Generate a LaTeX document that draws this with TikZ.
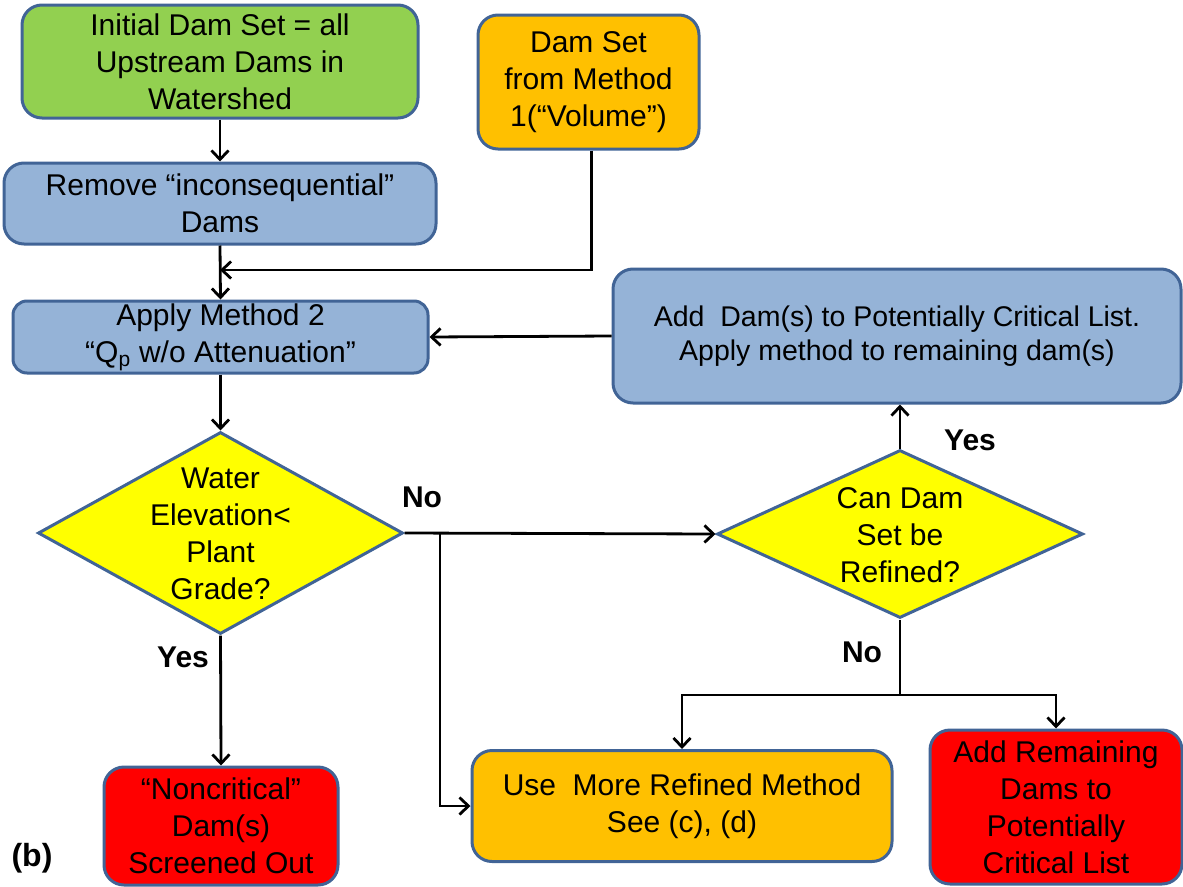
\documentclass[tikz,border=0pt]{standalone}
\usepackage{fontspec}
\setmainfont{Liberation Sans}
\usetikzlibrary{arrows.meta,shapes.geometric}
\definecolor{bord}{RGB}{65,100,150}
\definecolor{cgreen}{RGB}{146,208,80}
\definecolor{cblue}{RGB}{149,179,215}
\definecolor{corange}{RGB}{255,192,0}
\definecolor{cred}{RGB}{255,0,0}
\definecolor{cyellow}{RGB}{255,255,0}
\newcommand{\mainfs}{\fontsize{30}{37}\selectfont}
\newcommand{\lblfs}{\fontsize{30}{36}\selectfont\bfseries}
\tikzset{
  box/.style={draw=bord, line width=3pt, rounded corners=20pt, align=center, font=\mainfs, inner sep=0pt},
  dia/.style={draw=bord, line width=3pt, diamond, fill=cyellow, inner sep=0pt},
  diatext/.style={align=center, font=\mainfs, inner sep=0pt},
  lbl/.style={font=\lblfs, inner sep=0pt},
  arr/.style={line width=2.8pt, -{Straight Barb[length=9pt,width=17pt,line width=2.8pt]}},
  ln/.style={line width=2.8pt}
}
\begin{document}
\begin{tikzpicture}[x=1pt,y=-1pt]
\useasboundingbox (0,0) rectangle (1183,886);
\node[box, fill=cgreen, minimum width=396pt, minimum height=113pt] (green) at (220,61.5)
  {Initial Dam Set = all\\Upstream Dams in\\Watershed};
\node[box, fill=cblue, minimum width=432pt, minimum height=81pt] (remove) at (220,203.5)
  {Remove “inconsequential”\\Dams};
\node[box, fill=corange, minimum width=221pt, minimum height=134pt] (damset) at (588.5,82)
  {Dam Set\\from Method\\1(“Volume”)};
\node[box, fill=cblue, minimum width=415pt, minimum height=72pt, rounded corners=14pt] (apply) at (220.5,337)
  {Apply Method 2\\“Q\textsubscript{p} w/o Attenuation”};
\node[box, fill=cblue, minimum width=568pt, minimum height=134pt, font=\fontsize{28.5}{34}\selectfont] (adddam) at (897,336)
  {Add\ \ Dam(s) to Potentially Critical List.\\Apply method to remaining dam(s)};
\node[dia, minimum width=365pt, minimum height=202pt] (d1) at (220.5,533) {};
\node[diatext] (d1t) at (220.5,534) {Water\\Elevation<\\Plant\\Grade?};
\node[dia, minimum width=366pt, minimum height=168pt] (d2) at (900,534) {};
\node[diatext] (d2t) at (900,535) {Can Dam\\Set be\\Refined?};
\node[box, fill=cred, minimum width=234pt, minimum height=118pt] (noncrit) at (221,826)
  {“Noncritical”\\Dam(s)\\Screened Out};
\node[box, fill=corange, minimum width=420pt, minimum height=111pt] (usemore) at (682,806)
  {Use\ \ More Refined Method\\See (c), (d)};
\node[box, fill=cred, minimum width=252pt, minimum height=154pt] (addrem) at (1056,807)
  {Add Remaining\\Dams to\\Potentially\\Critical List};

\coordinate (j1) at (220,270);
\coordinate (j2) at (440,533);
\coordinate (j3) at (900,695);

\draw[arr] (green.south) -- (remove.north);
\draw[arr] (remove.south) -- (apply.north);
\draw[arr] ([xshift=3pt]damset.south) |- (j1);
\draw[arr] (adddam.west) -- (apply.east);
\draw[arr] (apply.south) -- (d1.north);
\draw[arr] (d1.east) -- (d2.west);
\draw[arr] (j2) |- (usemore.west);
\draw[arr] (d2.north) -- (d2.north |- adddam.south);
\draw[ln] (d2.south) -- (j3);
\draw[arr] (j3) -| (usemore.north);
\draw[arr] (j3) -| (addrem.north);
\draw[arr] (d1.south) -- (noncrit.north);

\node[lbl] (no1) at (422,497) {No};
\node[lbl] (yes1) at (183,657) {Yes};
\node[lbl] (yes2) at (970,440) {Yes};
\node[lbl] (no2) at (862,652) {No};
\node[lbl, font=\fontsize{32}{36}\selectfont\bfseries] (b) at (32,858) {(b)};
\end{tikzpicture}
\end{document}
